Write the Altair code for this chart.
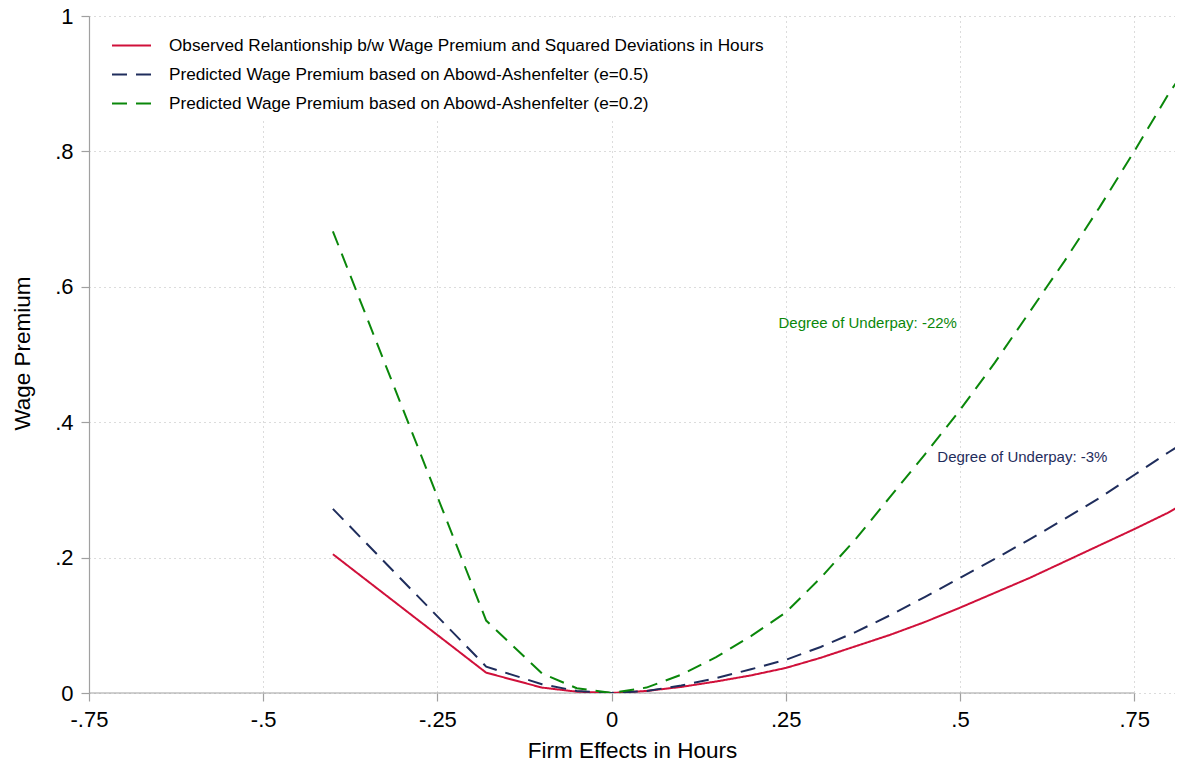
import altair as alt
import pandas as pd

series_names = [
    "Observed Relantionship b/w Wage Premium and Squared Deviations in Hours",
    "Predicted Wage Premium based on Abowd-Ashenfelter (e=0.5)",
    "Predicted Wage Premium based on Abowd-Ashenfelter (e=0.2)",
]
series_colors = ["#D0103A", "#1F2D5C", "#0A870A"]

firm_effects = [-0.4, -0.18, -0.1, -0.05, 0.0,
                0.05, 0.1, 0.15, 0.2, 0.25, 0.3, 0.35, 0.4, 0.45, 0.5,
                0.55, 0.6, 0.65, 0.7, 0.75, 0.8, 0.82]
observed = [0.205, 0.030, 0.008, 0.002, 0.0,
            0.003, 0.009, 0.017, 0.026, 0.037, 0.052, 0.069, 0.086, 0.105, 0.126,
            0.148, 0.170, 0.194, 0.218, 0.242, 0.267, 0.279]
pred_e05 = [0.272, 0.039, 0.013, 0.003, 0.0,
            0.003, 0.011, 0.022, 0.035, 0.049, 0.068, 0.090, 0.115, 0.142, 0.170,
            0.198, 0.227, 0.257, 0.288, 0.322, 0.356, 0.369]
pred_e02 = [0.682, 0.107, 0.029, 0.007, 0.0,
            0.008, 0.027, 0.053, 0.084, 0.119, 0.170, 0.227, 0.290, 0.353, 0.418,
            0.488, 0.563, 0.638, 0.717, 0.800, 0.886, 0.916]

x_ticks = [-0.75, -0.5, -0.25, 0, 0.25, 0.5, 0.75]
y_ticks = [0, 0.2, 0.4, 0.6, 0.8, 1.0]

annot_text = ["Degree of Underpay: -22%", "Degree of Underpay: -3%"]
annot_x = [0.2395, 0.4675]
annot_y = [0.547, 0.349]

FONT = "Liberation Sans"
PLOT_W, PLOT_H = 1086, 677
X_MAX = -0.75 + PLOT_W / 696.8

rows = []
for name, vals in zip(series_names, [observed, pred_e05, pred_e02]):
    for i, (xv, yv) in enumerate(zip(firm_effects, vals)):
        rows.append({"series": name, "x": xv, "y": yv, "order": i})
df = pd.DataFrame(rows)

xscale = alt.Scale(domain=[-0.75, X_MAX], nice=False, zero=False)
yscale = alt.Scale(domain=[0, 1], nice=False)

num_expr = "replace(replace(format(datum.value, '.2~f'), '\u2212', '-'), '0.', '.')"

x_axis = alt.Axis(
    values=x_ticks,
    labelExpr=num_expr,
    labelFlush=False,
    grid=True, gridDash=[1, 4], gridColor="#b8b8b8", gridWidth=1,
    domain=False, tickSize=8, tickColor="#a0a0a0", tickWidth=1.2,
    labelFont=FONT, labelFontSize=22, labelColor="black", labelPadding=8,
    title="Firm Effects in Hours", titleFont=FONT, titleFontSize=22.5,
    titleFontWeight="normal", titleColor="black", titleY=57, titleBaseline="middle",
)
y_axis = alt.Axis(
    values=y_ticks,
    labelExpr=num_expr,
    labelFlush=False,
    grid=True, gridDash=[1, 4], gridColor="#b8b8b8", gridWidth=1,
    domain=True, domainColor="#a0a0a0", domainWidth=1.2,
    tickSize=8, tickColor="#a0a0a0", tickWidth=1.2,
    labelFont=FONT, labelFontSize=22, labelColor="black", labelPadding=8,
    title="Wage Premium", titleFont=FONT, titleFontSize=22.5,
    titleFontWeight="normal", titleColor="black",
    titleX=-67, titleY=337, titleAngle=-90, titleAlign="center", titleBaseline="middle",
)

legend = alt.Legend(title=None)

lines = alt.Chart(df).mark_line(strokeWidth=2, clip=True).encode(
    x=alt.X("x:Q", scale=xscale, axis=x_axis),
    y=alt.Y("y:Q", scale=yscale, axis=y_axis),
    color=alt.Color("series:N", scale=alt.Scale(domain=series_names, range=series_colors), legend=legend),
    strokeDash=alt.StrokeDash("series:N", scale=alt.Scale(domain=series_names, range=[[1, 0], [15, 9], [15, 9]]), legend=legend),
    order="order:Q",
)

axis_line = alt.Chart(pd.DataFrame({"x": [x_ticks[0]], "x2": [x_ticks[-1]], "y": [0]})).mark_rule(
    color="#a0a0a0", strokeWidth=1.2
).encode(x="x:Q", x2="x2:Q", y="y:Q")

annot_layers = []
for t, xv, yv, c in zip(annot_text, annot_x, annot_y, [series_colors[2], series_colors[1]]):
    annot_layers.append(
        alt.Chart(pd.DataFrame({"x": [xv], "y": [yv], "t": [t]})).mark_text(
            align="left", baseline="middle", font=FONT, fontSize=15, color=c
        ).encode(x="x:Q", y="y:Q", text="t:N")
    )

chart = alt.layer(axis_line, lines, *annot_layers).properties(
    width=PLOT_W, height=PLOT_H,
    autosize=alt.AutoSizeParams(type="none"),
    padding={"left": 81, "top": 8, "right": 0, "bottom": 68},
).configure_view(stroke=None).configure_legend(
    orient="none", legendX=16, legendY=3,
    fillColor="white", strokeColor=None, padding=6,
    symbolType="stroke", symbolSize=1521, symbolStrokeWidth=2,
    labelFont=FONT, labelFontSize=17.2, labelColor="black", labelLimit=1000,
    labelOffset=17, rowPadding=-11,
)

chart.save("out.html", embed_options={"renderer": "svg", "actions": False})
